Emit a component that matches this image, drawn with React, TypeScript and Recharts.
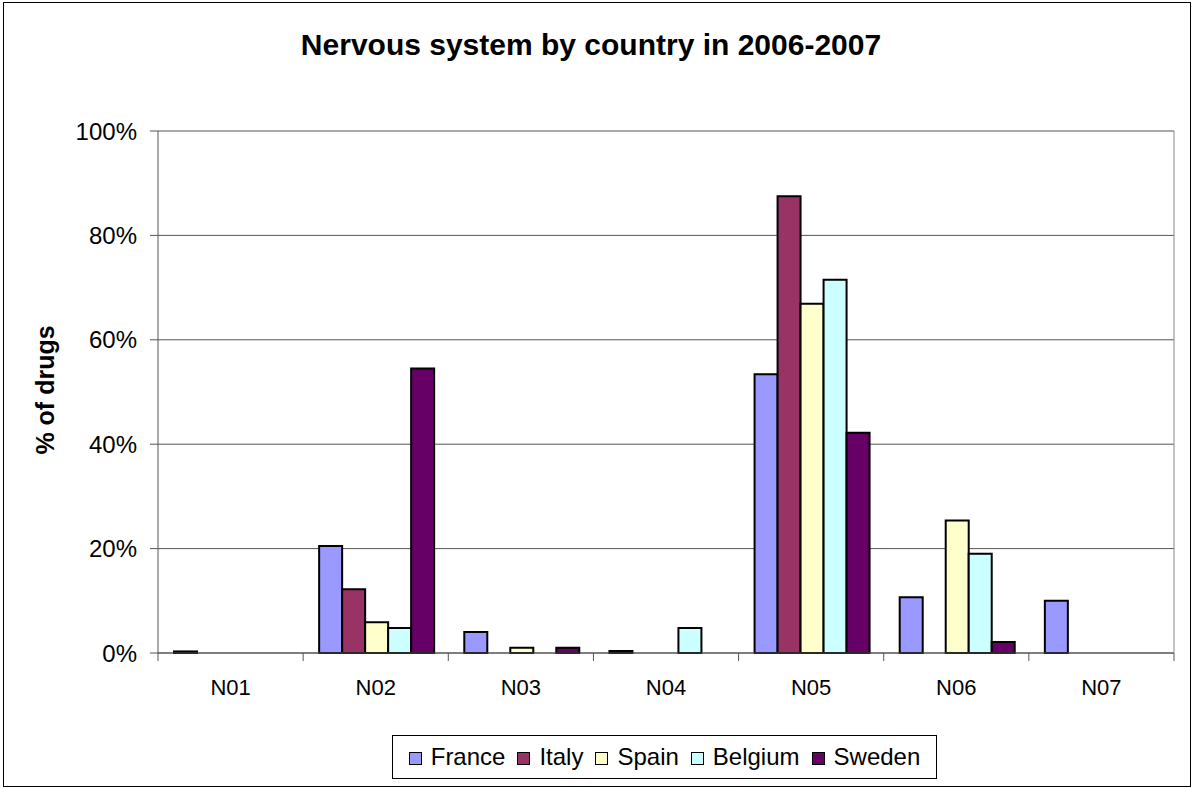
import { BarChart, Bar, XAxis, YAxis, CartesianGrid } from "recharts";

const categories = ["N01", "N02", "N03", "N04", "N05", "N06", "N07"];
const france = [0.3, 20.5, 4.0, 0.4, 53.4, 10.7, 10.0];
const italy = [0, 12.2, 0, 0, 87.5, 0, 0];
const spain = [0, 5.9, 1.0, 0, 66.9, 25.4, 0];
const belgium = [0, 4.8, 0, 4.8, 71.5, 19.0, 0];
const sweden = [0, 54.5, 1.0, 0, 42.2, 2.1, 0];
const yTicks = [0, 20, 40, 60, 80, 100];

const series = [
  { name: "France", values: france, color: "#9999FF" },
  { name: "Italy", values: italy, color: "#993366" },
  { name: "Spain", values: spain, color: "#FFFFCC" },
  { name: "Belgium", values: belgium, color: "#CCFFFF" },
  { name: "Sweden", values: sweden, color: "#660066" },
];

const data = categories.map((code, i) => {
  const row: Record<string, string | number> = { code };
  series.forEach((s) => {
    row[s.name] = s.values[i];
  });
  return row;
});

const font = "'Liberation Sans', Arial, sans-serif";

// category label plus tick marks on the band edges, like Excel
function CategoryTick(props: any) {
  const { x, y, payload, index, visibleTicksCount, width } = props;
  const half =
    payload && payload.offset ? payload.offset : width / visibleTicksCount / 2;
  return (
    <g>
      <line x1={x - half} x2={x - half} y1={y} y2={y + 8} stroke="#555" />
      {index === visibleTicksCount - 1 && (
        <line x1={x + half} x2={x + half} y1={y} y2={y + 8} stroke="#555" />
      )}
      <text
        x={x}
        y={y + 26}
        dy="0.71em"
        textAnchor="middle"
        fill="#000"
        fontSize={22}
        fontFamily={font}
      >
        {payload.value}
      </text>
    </g>
  );
}

export default function App() {
  return (
    <div
      style={{
        position: "fixed",
        left: 0,
        top: 0,
        width: 1192,
        height: 788,
        background: "#fff",
        fontFamily: font,
      }}
    >
      <div
        style={{
          position: "absolute",
          left: 3,
          top: 2,
          width: 1188,
          height: 785,
          border: "1px solid #000",
          boxSizing: "border-box",
        }}
      />
      <div
        style={{
          position: "absolute",
          left: 0,
          top: 28,
          width: 1182,
          textAlign: "center",
          fontSize: 30,
          fontWeight: "bold",
          color: "#000",
        }}
      >
        Nervous system by country in 2006-2007
      </div>
      <div
        style={{
          position: "absolute",
          left: 45,
          top: 390,
          transform: "translate(-50%, -50%) rotate(-90deg)",
          whiteSpace: "nowrap",
          fontSize: 25,
          fontWeight: "bold",
          color: "#000",
        }}
      >
        % of drugs
      </div>

      <div style={{ position: "absolute", left: 0, top: 0 }}>
        <BarChart
          width={1192}
          height={788}
          data={data}
          margin={{ top: 131, right: 17, bottom: 95, left: 88 }}
          barCategoryGap={16}
          barGap={0}
        >
          <CartesianGrid vertical={false} stroke="#555" strokeWidth={1} />
          <XAxis
            dataKey="code"
            height={40}
            tickLine={false}
            axisLine={{ stroke: "#555" }}
            tickSize={0}
            tickMargin={0}
            tick={<CategoryTick />}
            interval={0}
          />
          <YAxis
            domain={[0, 100]}
            ticks={yTicks}
            width={70}
            tickSize={8}
            tickMargin={13}
            tickFormatter={(v) => `${v}%`}
            tick={{ fill: "#000", fontSize: 24, fontFamily: font }}
            tickLine={{ stroke: "#555" }}
            axisLine={{ stroke: "#555" }}
          />
          <YAxis
            yAxisId="right"
            orientation="right"
            domain={[0, 100]}
            width={1}
            tick={false}
            tickLine={false}
            axisLine={{ stroke: "#888" }}
          />
          {series.map((s) => (
            <Bar
              key={s.name}
              dataKey={s.name}
              fill={s.color}
              stroke="#000"
              strokeWidth={2}
              isAnimationActive={false}
            />
          ))}
        </BarChart>
      </div>

      <div
        style={{
          position: "absolute",
          left: 392,
          top: 735,
          width: 545,
          height: 44,
          border: "1px solid #000",
          boxSizing: "border-box",
          display: "flex",
          alignItems: "center",
          justifyContent: "center",
          gap: 12,
          fontSize: 24,
          color: "#000",
        }}
      >
        {series.map((s) => (
          <div key={s.name} style={{ display: "flex", alignItems: "center" }}>
            <div
              style={{
                width: 11,
                height: 11,
                background: s.color,
                border: "1px solid #000",
                marginRight: 9,
                marginTop: 2,
              }}
            />
            <span>{s.name}</span>
          </div>
        ))}
      </div>
    </div>
  );
}
